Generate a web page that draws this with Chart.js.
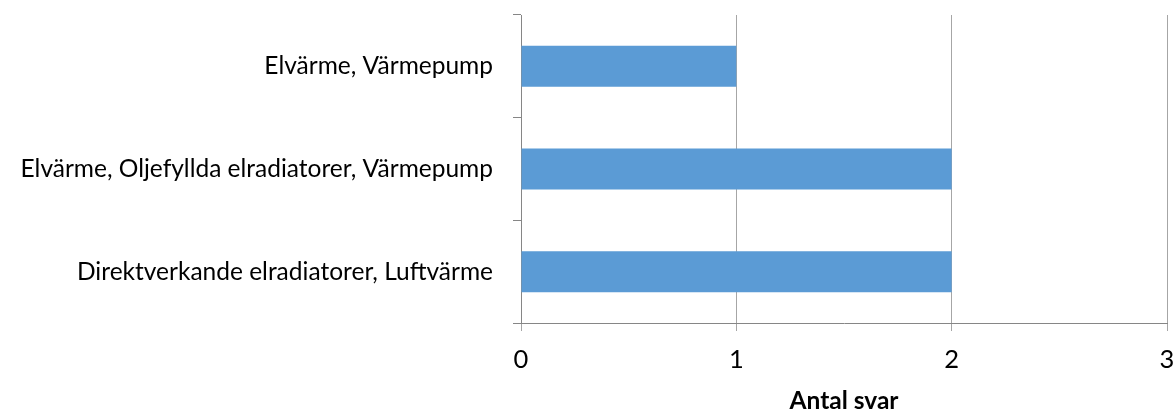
<!DOCTYPE html>
<html>
<head>
<meta charset="utf-8">
<script src="https://cdn.jsdelivr.net/npm/chart.js@4"></script>
<style>
  html, body { margin: 0; padding: 0; background: #fff; }
  #wrap { width: 1176px; height: 410px; position: relative; }
</style>
</head>
<body>
<div id="wrap"><canvas id="c" width="1176" height="410"></canvas></div>
<script>
const categories = [
  "Elvärme, Värmepump",
  "Elvärme, Oljefyllda elradiatorer, Värmepump",
  "Direktverkande elradiatorer, Luftvärme"
];
const values = [1, 2, 2];
const xTickValues = [0, 1, 2, 3];
const xTitle = "Antal svar";

const FONT = "Lato";
// pick a font size so the longest label roughly matches the reference width
const mc = document.createElement('canvas').getContext('2d');
let fs = 20;
for (let s = 16; s <= 26; s += 0.5) {
  mc.font = s + "px " + FONT;
  if (mc.measureText(categories[1]).width <= 481) fs = s;
}

new Chart(document.getElementById('c'), {
  type: 'bar',
  data: {
    labels: categories,
    datasets: [{
      data: values,
      backgroundColor: '#5B9BD5',
      borderWidth: 0,
      categoryPercentage: 1,
      barPercentage: 0.4
    }]
  },
  options: {
    indexAxis: 'y',
    responsive: false,
    animation: false,
    devicePixelRatio: 1,
    layout: { padding: { top: 15, right: 9, left: 0, bottom: 0 } },
    plugins: { legend: { display: false }, tooltip: { enabled: false } },
    scales: {
      x: {
        min: 0, max: 3,
        afterBuildTicks: s => { s.ticks = xTickValues.map(v => ({ value: v })); },
        afterFit: s => { s.height = 87; s.paddingLeft = 0; s.paddingRight = 0; },
        grid: { color: '#A6A6A6', lineWidth: 1, drawTicks: true, tickLength: 8, tickColor: '#A6A6A6' },
        border: { display: true, color: '#868686', width: 1 },
        ticks: { color: '#000', font: { family: FONT, size: fs + 1 }, padding: 13, maxRotation: 0 },
        title: { display: true, text: xTitle, color: '#000', font: { family: FONT, size: fs, weight: 'bold' }, padding: { top: 0, bottom: -6 } }
      },
      y: {
        afterFit: s => { s.width = 521; s.paddingTop = 0; s.paddingBottom = 0; },
        grid: { display: true, drawOnChartArea: false, drawTicks: true, tickLength: 8, color: '#868686', offset: true },
        border: { display: true, color: '#868686', width: 1 },
        ticks: { color: '#000', font: { family: FONT, size: fs }, padding: 20 }
      }
    }
  }
});
</script>
</body>
</html>
